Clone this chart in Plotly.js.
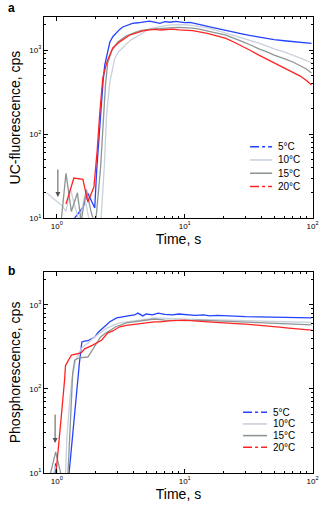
<!DOCTYPE html>
<html>
<head>
<meta charset="utf-8">
<script src="https://cdn.plot.ly/plotly-3.0.1.min.js"></script>
<style>
  html, body { margin: 0; padding: 0; background: #fff; }
  #plot { width: 320px; height: 511px; }
</style>
</head>
<body>
<div id="plot"></div>
<script>
// panel a: UC-fluorescence
const aT5 = [1.31,1.45,1.6,1.75,1.88,1.98,2.05,2.12,2.2,2.3,2.37,2.5,2.6,2.75,2.94,3.1,3.28,3.5,3.9,4.3,4.8,5.3,5.8,6.4,7,7.7,8.5,9.3,10,11,12.5,14,15.7,17.5,19.5,22,24.6,28,32,38,44,50,60,70,80,90,98];
const aV5 = [9,11,13.5,19.8,16,13.2,37,80,200,420,660,950,1245,1450,1640,1760,1880,1960,2080,2110,2170,2210,2150,2080,2180,2140,2190,2150,2120,2130,2020,1960,1890,1830,1740,1700,1650,1560,1490,1415,1370,1330,1290,1260,1240,1220,1200];

const aT10 = [0.83,0.95,1.1,1.18,1.28,1.4,1.5,1.65,1.8,1.95,2.2,2.35,2.45,2.6,2.84,3.05,3.3,3.8,4.4,5,5.6,6.4,7.2,8,9,10,11.5,13,15,17.5,21,24.6,28,33,38,44,50,60,70,80,90,98];
const aV10 = [20,17,14,12,22,13,9,18,9,8,8,40,170,415,800,960,1080,1320,1500,1700,1820,1900,1960,1990,2010,2000,1960,1900,1840,1720,1590,1480,1400,1300,1210,1110,1030,950,870,800,750,700];

const aT15 = [1.08,1.18,1.3,1.45,1.55,1.7,1.85,2.0,2.2,2.3,2.4,2.5,2.7,3.0,3.5,4.0,4.5,5.2,6,7,8,9,10,11.5,13,15,17.5,21,24.6,28,33,38,44,50,60,70,80,90,98];
const aV15 = [9,34,12,20,9,22,12,8,40,150,380,700,1000,1250,1480,1600,1700,1760,1800,1830,1850,1860,1850,1820,1770,1700,1600,1500,1380,1270,1140,1030,950,870,790,720,650,590,532];

const aT20 = [1.18,1.36,1.6,1.75,1.95,2.07,2.17,2.29,2.4,2.5,2.74,3.1,3.7,4.2,4.7,5.3,6,6.4,7,8,9,10,11.5,13,15,17.5,21,24.6,28,33,38,44,50,60,70,80,90,98];
const aV20 = [14.7,30,29,15.5,23.4,64,183,465,620,760,1060,1250,1500,1610,1690,1740,1760,1730,1760,1770,1740,1730,1700,1640,1580,1480,1378,1230,1120,980,870,780,700,620,552,490,430,383];

// panel b: phosphorescence
const bT5 = [0.96,0.98,1.0,null,1.24,1.35,1.46,1.5,1.56,1.57,1.65,1.75,1.9,1.98,2.1,2.29,2.45,2.6,2.94,3.2,3.5,3.8,4.06,4.3,4.7,5.0,5.6,6.2,7,8,9,10,12,14,15.7,18,21,25,30,38,45,55,65,75,85,98];
const bV5 = [9,13,9,null,9,40,128,200,300,363,370,375,400,415,470,530,580,630,700,720,740,750,760,800,740,780,760,800,770,760,780,770,750,760,740,750,740,730,725,720,715,710,705,700,705,700];

const bT10 = [0.93,0.98,1.03,null,1.17,1.2,1.26,1.31,1.4,1.57,1.75,1.91,2.2,2.46,2.8,3.1,3.5,3.9,4.5,5.2,5.8,7,8.5,10,13,16,20,25,32,40,50,60,75,85,98];
const bV10 = [9,12,9,null,9,27,70,128,220,310,350,400,470,530,580,610,630,640,660,680,700,690,680,680,670,670,660,660,650,640,635,630,625,620,620];

const bT15 = [0.88,0.98,1.09,null,1.22,1.28,1.33,1.38,1.5,1.75,1.9,2.0,2.2,2.4,2.6,2.9,3.5,4.45,5.8,7,8.5,10,13,16,20,25,32,40,50,60,75,85,98];
const bV15 = [9,17.8,9,null,9,50,150,220,235,240,290,330,415,460,500,550,610,640,680,660,650,650,660,650,640,630,620,610,605,600,590,585,580];

const bT20 = [0.98,1.05,1.1,1.15,1.17,1.3,1.45,1.55,1.65,1.91,2.25,2.5,2.74,3.1,3.5,3.9,4.45,5.0,5.8,6.4,8,10,12.5,15.7,20,25,30,38,45,55,65,75,85,98];
const bV20 = [9,25,60,128,190,253,262,268,300,333,383,465,490,550,570,580,590,610,630,628,650,660,640,630,620,600,590,575,560,545,530,520,510,500];

const names = ['5°C', '10°C', '15°C', '20°C'];
const colors = ['#2443ff', '#c9d1dc', '#8e9595', '#ff2424'];
const legendDash = ['dashdot', 'solid', 'solid', 'dashdot'];

const xTickVals = [1, 10, 100];
const xTickText = ['10<sup>0</sup>', '10<sup>1</sup>', '10<sup>2</sup>'];
const yTickVals = [10, 100, 1000];
const yTickText = ['10<sup>1</sup>', '10<sup>2</sup>', '10<sup>3</sup>'];

const panelA = [[aT5, aV5], [aT10, aV10], [aT15, aV15], [aT20, aV20]];
const panelB = [[bT5, bV5], [bT10, bV10], [bT15, bV15], [bT20, bV20]];

let data = [];
let shapes = [];
let annotations = [];

function addPanel(panel, xa, ya, key) {
    panel.forEach(([t, v], i) => {
        data.push({
            x: t, y: v, xaxis: xa, yaxis: ya,
            mode: 'lines', type: 'scatter', name: names[i],
            line: { color: colors[i], width: 1.3 },
            showlegend: false, hoverinfo: 'skip'
        });
    });
    // compact legend drawn inside the axes box
    const xr = xa + ' domain', yr = ya + ' domain';
    names.forEach((n, i) => {
        let yy = key.top - i * key.step;
        shapes.push({
            type: 'line', xref: xr, yref: yr,
            x0: key.x0, x1: key.x1, y0: yy, y1: yy,
            line: { color: colors[i], width: 1.6, dash: legendDash[i] }
        });
        annotations.push({
            text: n, xref: xr, yref: yr, x: key.tx, y: yy,
            xanchor: 'left', yanchor: 'middle', showarrow: false,
            font: { family: 'Arial', size: 10, color: '#000' }
        });
    });
}
addPanel(panelA, 'x', 'y', { top: 0.355, step: 0.066, x0: 0.766, x1: 0.848, tx: 0.862 });
addPanel(panelB, 'x2', 'y2', { top: 0.302, step: 0.058, x0: 0.740, x1: 0.829, tx: 0.843 });

const minorX = [2,3,4,5,6,7,8,9,20,30,40,50,60,70,80,90];
const minorY = [20,30,40,50,60,70,80,90,200,300,400,500,600,700,800,900,2000];

function xAxis(anchor) {
    return {
        type: 'log', range: [-0.1, 2.003], anchor: anchor,
        tickmode: 'array', tickvals: xTickVals, ticktext: xTickText,
        ticks: 'inside', ticklen: 4, tickcolor: '#000',
        minor: { tickmode: 'array', tickvals: minorX, ticks: 'inside', ticklen: 2, tickcolor: '#000' },
        showline: true, linecolor: '#000', linewidth: 1, mirror: 'allticks',
        showgrid: false, zeroline: false,
        tickfont: { family: 'Arial', size: 8, color: '#000' },
        title: { text: 'Time, s', font: { family: 'Arial', size: 14, color: '#000' }, standoff: 4 }
    };
}
function yAxis(domain, anchor, title) {
    return {
        type: 'log', range: [1, 3.393], domain: domain, anchor: anchor,
        tickmode: 'array', tickvals: yTickVals, ticktext: yTickText,
        ticks: 'inside', ticklen: 4, tickcolor: '#000',
        minor: { tickmode: 'array', tickvals: minorY, ticks: 'inside', ticklen: 2, tickcolor: '#000' },
        showline: true, linecolor: '#000', linewidth: 1, mirror: 'allticks',
        showgrid: false, zeroline: false,
        tickfont: { family: 'Arial', size: 8, color: '#000' },
        title: { text: title, font: { family: 'Arial', size: 14, color: '#000' }, standoff: 5 }
    };
}

annotations.push(
    { text: '<b>a</b>', xref: 'paper', yref: 'paper', x: -0.14, y: 1.02, xanchor: 'left', yanchor: 'middle',
      showarrow: false, font: { family: 'Arial', size: 12, color: '#000' } },
    { text: '<b>b</b>', xref: 'paper', yref: 'paper', x: -0.14, y: 0.442, xanchor: 'left', yanchor: 'middle',
      showarrow: false, font: { family: 'Arial', size: 12, color: '#000' } },
    { x: Math.log10(1.02), y: Math.log10(17.8), xref: 'x', yref: 'y', text: '', showarrow: true,
      ax: 0, ay: -29, arrowhead: 2, arrowsize: 1, arrowwidth: 1, arrowcolor: '#555' },
    { x: Math.log10(0.97), y: Math.log10(22.7), xref: 'x2', yref: 'y2', text: '', showarrow: true,
      ax: 0, ay: -30, arrowhead: 2, arrowsize: 1, arrowwidth: 1, arrowcolor: '#555' }
);

let layout = {
    width: 320, height: 511,
    margin: { l: 44, r: 7, t: 17, b: 38 },
    paper_bgcolor: '#fff', plot_bgcolor: '#fff',
    showlegend: false,
    xaxis: xAxis('y'),
    yaxis: yAxis([0.559, 1], 'x', 'UC-fluorescence, cps'),
    xaxis2: xAxis('y2'),
    yaxis2: yAxis([0, 0.441], 'x2', 'Phosphorescence, cps'),
    shapes: shapes,
    annotations: annotations
};

Plotly.newPlot('plot', data, layout, { displayModeBar: false, staticPlot: true });
</script>
</body>
</html>
